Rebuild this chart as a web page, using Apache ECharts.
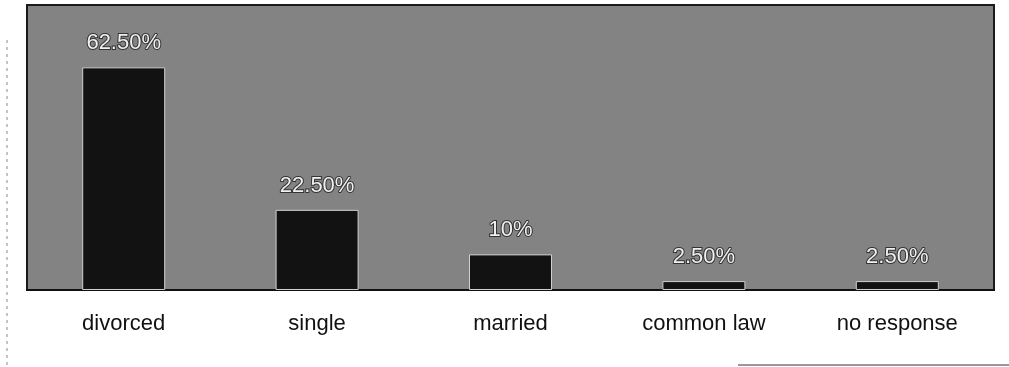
<!DOCTYPE html>
<html>
<head>
<meta charset="utf-8">
<script src="https://cdn.jsdelivr.net/npm/echarts@6/dist/echarts.min.js"></script>
<style>
  html, body { margin: 0; padding: 0; background: #fff; }
  #chart { width: 1009px; height: 367px; }
</style>
</head>
<body>
<div id="chart"></div>
<script>
// Marital status of respondents (percent)
const categories = ['divorced', 'single', 'married', 'common law', 'no response'];
const percents = [62.5, 22.5, 10, 2.5, 2.5];
const valueLabels = ['62.50%', '22.50%', '10%', '2.50%', '2.50%'];

const chart = echarts.init(document.getElementById('chart'));

chart.setOption({
  animation: false,
  backgroundColor: '#ffffff',
  grid: {
    left: 27, right: 15, top: 5, bottom: 77,
    show: true,
    backgroundColor: '#838383',
    borderColor: '#1a1a1a',
    borderWidth: 2
  },
  xAxis: {
    type: 'category',
    data: categories,
    axisLine: { show: true, lineStyle: { color: '#111', width: 2 } },
    axisTick: { show: false },
    axisLabel: {
      margin: 23,
      fontFamily: 'Liberation Sans, Arial, sans-serif',
      fontSize: 22,
      color: '#111'
    }
  },
  yAxis: {
    type: 'value',
    min: 0,
    max: 80,
    show: false,
    splitLine: { show: false }
  },
  series: [{
    type: 'bar',
    data: percents,
    barWidth: 83,
    itemStyle: { color: '#121212', borderColor: '#d0d0d0', borderWidth: 1 },
    label: {
      show: true,
      position: 'top',
      distance: 13,
      formatter: p => valueLabels[p.dataIndex],
      fontFamily: 'Liberation Sans, Arial, sans-serif',
      fontSize: 22,
      color: '#f0f0f0',
      textBorderColor: '#333',
      textBorderWidth: 2
    }
  }],
  graphic: [
    {
      type: 'line',
      shape: { x1: 7, y1: 40, x2: 7, y2: 367 },
      style: { stroke: '#888', lineWidth: 1, lineDash: [3, 4] }
    },
    {
      type: 'line',
      shape: { x1: 738, y1: 365, x2: 1009, y2: 365 },
      style: { stroke: '#999', lineWidth: 2 }
    }
  ]
});
</script>
</body>
</html>
